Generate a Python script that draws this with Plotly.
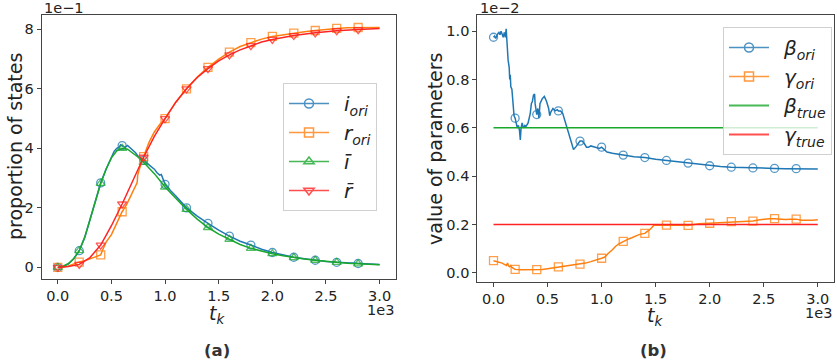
import plotly.graph_objects as go

# ---------------- data: panel (a) proportions ----------------
t_i_ori = [0, 50, 100, 150, 200, 250, 300, 350, 400, 450, 500, 525, 550, 575, 585, 600, 625, 650,
           665, 680, 700, 725, 750, 775, 800, 825, 850, 875, 900, 925, 950, 965, 980, 1000, 1050, 1100,
           1200, 1300, 1400, 1500, 1600, 1700, 1800, 1900, 2000, 2100, 2200, 2300, 2400, 2500,
           2600, 2700, 2800, 2900, 3000]
i_ori = [0.0, 0.003, 0.012, 0.03, 0.056, 0.10, 0.16, 0.22, 0.284, 0.33, 0.37, 0.39, 0.40, 0.405, 0.412,
         0.409, 0.403, 0.41, 0.405, 0.398, 0.39, 0.385, 0.372, 0.367, 0.36, 0.352, 0.345, 0.335, 0.33,
         0.318, 0.31, 0.312, 0.296, 0.279, 0.258, 0.24, 0.20, 0.172, 0.148, 0.125, 0.105, 0.088, 0.075,
         0.061, 0.050, 0.041, 0.034, 0.029, 0.024, 0.020, 0.017, 0.015, 0.013, 0.011, 0.010]

t_r_ori = [0, 50, 100, 150, 200, 250, 300, 350, 400, 420, 450, 500, 540, 580, 600, 640, 680, 720, 740,
           745, 760, 800, 850, 900, 950, 1000, 1100, 1200, 1300, 1400, 1500, 1600, 1700, 1800, 1900,
           2000, 2100, 2200, 2300, 2400, 2500, 2600, 2700, 2800, 2900, 3000]
r_ori = [0.0, 0.001, 0.005, 0.012, 0.018, 0.022, 0.028, 0.035, 0.042, 0.06, 0.085, 0.11, 0.14, 0.17,
         0.187, 0.21, 0.24, 0.27, 0.285, 0.31, 0.33, 0.372, 0.42, 0.455, 0.48, 0.50, 0.555, 0.60,
         0.64, 0.672, 0.70, 0.723, 0.742, 0.755, 0.767, 0.776, 0.782, 0.787, 0.792, 0.796, 0.800,
         0.803, 0.805, 0.806, 0.806, 0.806]

t_i_bar = [0, 50, 100, 150, 200, 250, 300, 350, 400, 450, 500, 550, 600, 650, 700, 750, 800, 850, 900,
           950, 1000, 1100, 1200, 1300, 1400, 1500, 1600, 1700, 1800, 1900, 2000, 2100, 2200, 2300,
           2400, 2500, 2600, 2700, 2800, 2900, 3000]
i_bar = [0.0, 0.004, 0.013, 0.03, 0.056, 0.10, 0.16, 0.22, 0.282, 0.33, 0.368, 0.392, 0.40, 0.397,
         0.385, 0.37, 0.353, 0.335, 0.315, 0.293, 0.27, 0.232, 0.195, 0.162, 0.134, 0.112, 0.094,
         0.077, 0.064, 0.054, 0.046, 0.039, 0.033, 0.028, 0.024, 0.020, 0.017, 0.014, 0.012, 0.010,
         0.009]

t_r_bar = [0, 100, 200, 300, 400, 500, 600, 700, 800, 900, 1000, 1100, 1200, 1300, 1400, 1500, 1600,
           1700, 1800, 1900, 2000, 2200, 2400, 2600, 2800, 3000]
r_bar = [0.0, 0.003, 0.01, 0.033, 0.075, 0.14, 0.213, 0.292, 0.37, 0.44, 0.50, 0.555, 0.60, 0.638,
         0.668, 0.694, 0.714, 0.731, 0.745, 0.757, 0.766, 0.779, 0.788, 0.795, 0.799, 0.803]

# ---------------- data: panel (b) parameters (values in units of 1e-2) ----------------
t_beta = [0, 10, 20, 30, 40, 50, 60, 70, 80, 90, 100, 110, 117, 125, 135, 145, 150, 155, 160, 170, 180,
          190, 200, 210, 220, 230, 240, 248, 255, 265, 275, 290, 300, 320, 340, 350, 360, 370, 380,
          385, 395, 400, 410, 420, 430, 450, 470, 490, 510, 520, 530, 550, 570, 590, 600, 620, 640,
          660, 680, 700, 720, 740, 760, 780, 800, 820, 840, 860, 880, 900, 940, 980, 1000, 1050,
          1100, 1150, 1200, 1300, 1400, 1500, 1600, 1700, 1800, 1900, 2000, 2100, 2200, 2300, 2400,
          2500, 2600, 2700, 2800, 2900, 3000]
beta_ori = [0.975, 0.98, 0.97, 0.985, 0.99, 0.995, 0.985, 1.0, 0.99, 0.975, 0.995, 0.975, 1.01, 0.92,
            0.88, 0.85, 0.80, 0.82, 0.77, 0.76, 0.70, 0.65, 0.64, 0.62, 0.60, 0.61, 0.59, 0.55, 0.60,
            0.62, 0.60, 0.61, 0.605, 0.62, 0.66, 0.70, 0.71, 0.735, 0.74, 0.70, 0.665, 0.655, 0.68,
            0.64, 0.70, 0.72, 0.73, 0.71, 0.68, 0.65, 0.665, 0.68, 0.67, 0.675, 0.67, 0.67, 0.66,
            0.63, 0.60, 0.56, 0.53, 0.51, 0.52, 0.535, 0.545, 0.545, 0.535, 0.52, 0.52, 0.525, 0.52,
            0.515, 0.52, 0.50, 0.495, 0.49, 0.487, 0.48, 0.477, 0.47, 0.465, 0.46, 0.454, 0.448,
            0.443, 0.44, 0.437, 0.435, 0.434, 0.433, 0.432, 0.431, 0.431, 0.43, 0.43]

t_gamma = [0, 20, 40, 60, 80, 100, 120, 130, 140, 150, 160, 170, 180, 200, 250, 300, 350, 400, 450,
           500, 550, 600, 650, 700, 750, 800, 850, 900, 950, 1000, 1030, 1060, 1100, 1130, 1160,
           1200, 1220, 1250, 1280, 1300, 1330, 1360, 1400, 1420, 1450, 1480, 1500, 1550, 1600,
           1650, 1700, 1750, 1800, 1850, 1900, 1950, 2000, 2100, 2200, 2300, 2400, 2450, 2500,
           2550, 2600, 2650, 2700, 2750, 2800, 2850, 2900, 2950, 3000]
gamma_ori = [0.05, 0.048, 0.045, 0.042, 0.04, 0.035, 0.03, 0.04, 0.028, 0.025, 0.03, 0.022, 0.02,
             0.014, 0.012, 0.012, 0.012, 0.013, 0.014, 0.017, 0.02, 0.024, 0.027, 0.03, 0.033,
             0.036, 0.04, 0.046, 0.052, 0.06, 0.065, 0.08, 0.095, 0.11, 0.12, 0.13, 0.135, 0.14,
             0.145, 0.15, 0.155, 0.16, 0.163, 0.17, 0.18, 0.195, 0.198, 0.197, 0.197, 0.2, 0.2,
             0.198, 0.196, 0.2, 0.203, 0.204, 0.205, 0.208, 0.212, 0.213, 0.214, 0.218, 0.222,
             0.224, 0.224, 0.222, 0.22, 0.222, 0.222, 0.217, 0.216, 0.217, 0.219]

t_true = [0, 3000]
beta_true = [0.6, 0.6]
gamma_true = [0.2, 0.2]

# ---------------- tick labels ----------------
x_tickvals = [0, 500, 1000, 1500, 2000, 2500, 3000]
x_ticktext = ["0.0", "0.5", "1.0", "1.5", "2.0", "2.5", "3.0"]
ya_tickvals = [0, 0.2, 0.4, 0.6, 0.8]
ya_ticktext = ["0", "2", "4", "6", "8"]
yb_tickvals = [0, 0.2, 0.4, 0.6, 0.8, 1.0]
yb_ticktext = ["0.0", "0.2", "0.4", "0.6", "0.8", "1.0"]

BLUE = "#1f77b4"
ORANGE = "#ff7f0e"
GREEN = "#19a82c"
RED = "#ff2424"
FONT = "DejaVu Sans"
W, H = 837, 363
SP = "\u2002"


def px(x):
    return x / W


def py(y):
    return 1 - y / H


def marks(t, v, step=200, tmax=2800):
    xs, ys = [], []
    for a, b in zip(t, v):
        if a % step == 0 and a <= tmax:
            xs.append(a)
            ys.append(b)
    return xs, ys


fig = go.Figure()


def add_series(t, v, color, symbol, name, xa, ya, leg, grp):
    fig.add_trace(go.Scatter(x=t, y=v, mode="lines", line=dict(color=color, width=1.5),
                             xaxis=xa, yaxis=ya, showlegend=False, hoverinfo="skip"))
    if symbol is not None:
        mx, my = marks(t, v)
        fig.add_trace(go.Scatter(x=mx, y=my, mode="markers",
                                 marker=dict(symbol=symbol, size=8, color=color, opacity=0.75,
                                             line=dict(color=color, width=1.3)),
                                 xaxis=xa, yaxis=ya, showlegend=False, hoverinfo="skip"))
    # legend proxy
    fig.add_trace(go.Scatter(x=[None], y=[None], mode="lines+markers" if symbol else "lines",
                             line=dict(color=color, width=1.5 if symbol else 2.2),
                             opacity=0.8,
                             marker=dict(symbol=symbol or "circle", size=9, color=color,
                                         line=dict(color=color, width=1.5)),
                             name=SP + name, xaxis=xa, yaxis=ya, legend=leg, legendgroup=grp,
                             showlegend=True))


add_series(t_i_ori, i_ori, BLUE, "circle-open", "<i>i</i><sub><i>ori</i></sub>", "x", "y", "legend", "a1")
add_series(t_r_ori, r_ori, ORANGE, "square-open", "<i>r</i><sub><i>ori</i></sub>", "x", "y", "legend", "a2")
add_series(t_i_bar, i_bar, GREEN, "triangle-up-open", "<i>\u012b</i>", "x", "y", "legend", "a3")
add_series(t_r_bar, r_bar, RED, "triangle-down-open", "<i>r\u0304</i>", "x", "y", "legend", "a4")

add_series(t_beta, beta_ori, BLUE, "circle-open", "<i>\u03b2</i><sub><i>ori</i></sub>", "x2", "y2", "legend2", "b1")
add_series(t_gamma, gamma_ori, ORANGE, "square-open", "<i>\u03b3</i><sub><i>ori</i></sub>", "x2", "y2", "legend2", "b2")
add_series(t_true, beta_true, GREEN, None, "<i>\u03b2</i><sub><i>true</i></sub>", "x2", "y2", "legend2", "b3")
add_series(t_true, gamma_true, RED, None, "<i>\u03b3</i><sub><i>true</i></sub>", "x2", "y2", "legend2", "b4")

axis_common = dict(showgrid=False, zeroline=False, showline=True, mirror=True, linecolor="#444",
                   linewidth=1, ticks="outside", ticklen=4, tickcolor="#444",
                   tickfont=dict(family=FONT, size=14.5, color="#222"))

legend_common = dict(yanchor="top", bgcolor="rgba(255,255,255,0.8)",
                     bordercolor="#d0d0d0", borderwidth=1, itemwidth=40,
                     font=dict(family=FONT, size=20, color="#222"), tracegroupgap=0)

fig.update_layout(
    width=W, height=H, margin=dict(l=0, r=0, t=0, b=0),
    paper_bgcolor="white", plot_bgcolor="white",
    xaxis=dict(domain=[px(41.7), px(395.7)], anchor="y", range=[-150, 3150],
               tickvals=x_tickvals, ticktext=x_ticktext, **axis_common),
    yaxis=dict(domain=[py(278.7), py(15)], anchor="x", range=[-0.038, 0.848],
               tickvals=ya_tickvals, ticktext=ya_ticktext, **axis_common),
    xaxis2=dict(domain=[px(477.3), px(834)], anchor="y2", range=[-150, 3150],
                tickvals=x_tickvals, ticktext=x_ticktext, **axis_common),
    yaxis2=dict(domain=[py(281.7), py(15)], anchor="x2", range=[-0.037, 1.067],
                tickvals=yb_tickvals, ticktext=yb_ticktext, **axis_common),
    legend=dict(x=px(283), y=py(83), xanchor="left", **legend_common),
    legend2=dict(x=px(832), y=py(27), xanchor="right", **legend_common),
    showlegend=True,
)

ann = []
txt_font = dict(family=FONT, size=19, color="#222")
ann.append(dict(text="proportion of states", x=px(15), y=py(147), textangle=-90, font=txt_font))
ann.append(dict(text="value of parameters", x=px(435), y=py(149), textangle=-90, font=txt_font))
ann.append(dict(text="<i>t</i><sub><i>k</i></sub>", x=px(217), y=py(314), font=txt_font))
ann.append(dict(text="<i>t</i><sub><i>k</i></sub>", x=px(655), y=py(316), font=txt_font))
small = dict(family=FONT, size=14.5, color="#222")
ann.append(dict(text="1e\u22121", x=px(42), y=py(8), xanchor="left", font=small))
ann.append(dict(text="1e\u22122", x=px(478), y=py(8), xanchor="left", font=small))
ann.append(dict(text="1e3", x=px(395.5), y=py(310), xanchor="right", font=small))
ann.append(dict(text="1e3", x=px(834), y=py(313), xanchor="right", font=small))
bold = dict(family=FONT, size=16.5, color="#333")
ann.append(dict(text="<b>(a)</b>", x=px(217), y=py(350), font=bold))
ann.append(dict(text="<b>(b)</b>", x=px(653), y=py(350), font=bold))
for a in ann:
    a.update(xref="paper", yref="paper", showarrow=False)
    a.setdefault("xanchor", "center")
    a.setdefault("yanchor", "middle")
fig.update_layout(annotations=ann)

fig.write_html("out.html", config={"displayModeBar": False},
               post_script="document.body.style.margin='0px';")
